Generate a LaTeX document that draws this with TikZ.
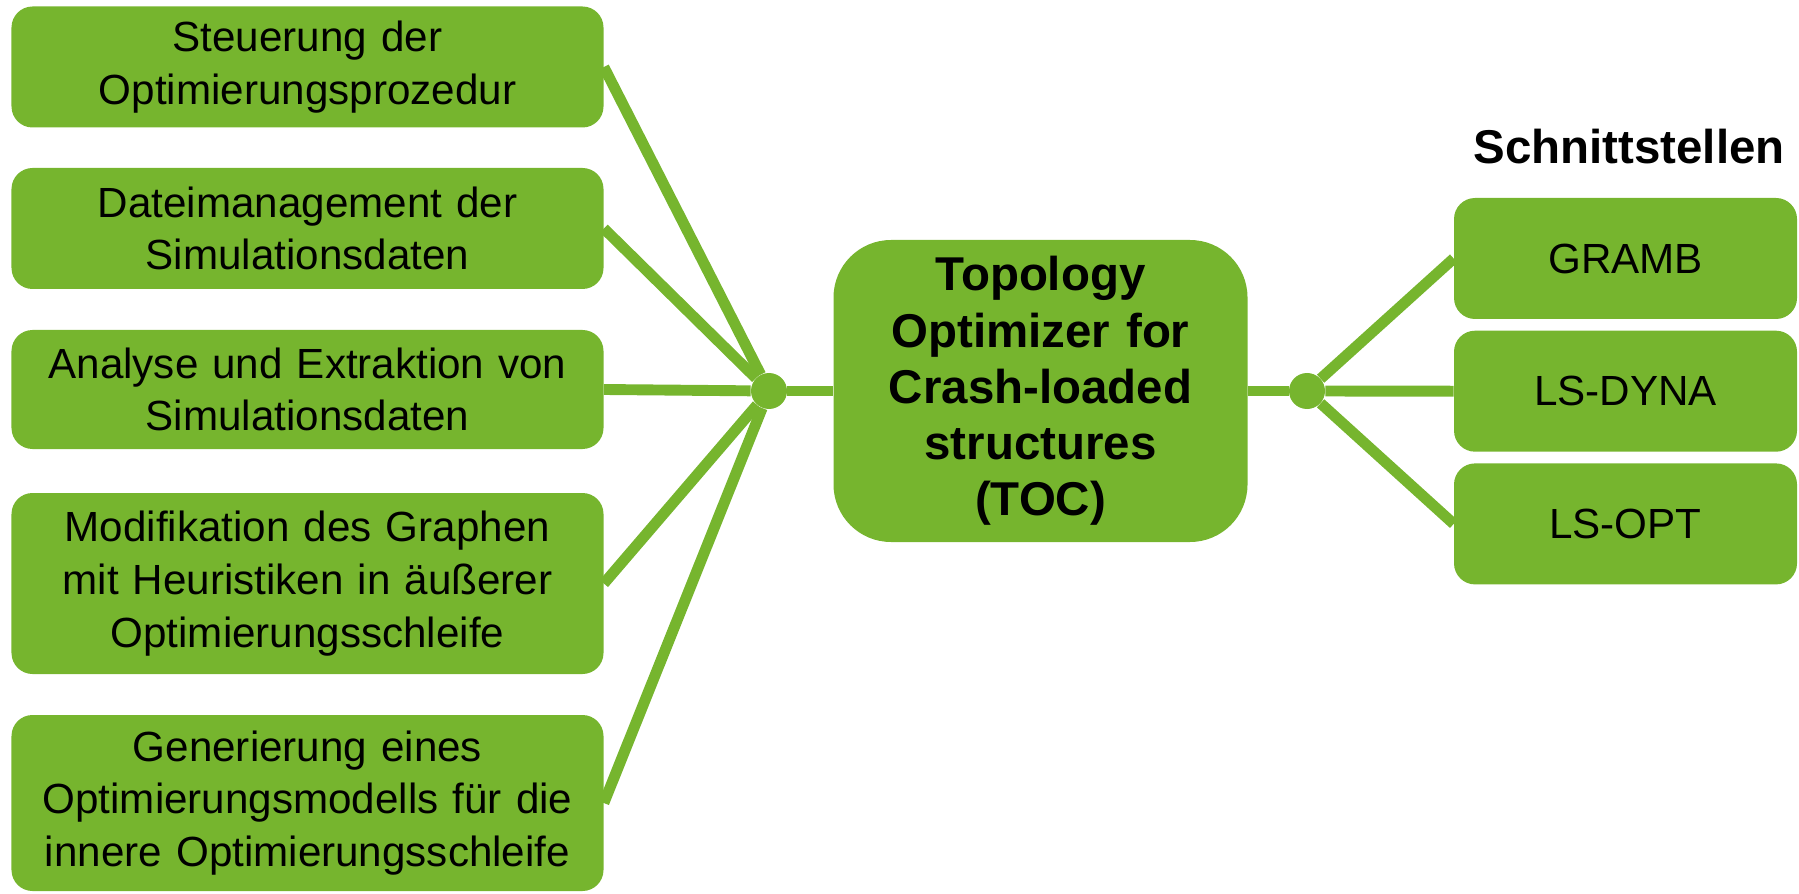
\documentclass[tikz,border=0pt]{standalone}
\usepackage{fontspec}
\setmainfont{Liberation Sans}
\usetikzlibrary{positioning}
\definecolor{toclime}{RGB}{118,181,46}
\tikzset{
  task/.style={rectangle,rounded corners=0.42cm,fill=toclime,minimum width=11.84cm,
    text width=11.6cm,align=center,inner sep=0pt,font=\fontsize{24}{30}\selectfont},
  iface/.style={rectangle,rounded corners=0.42cm,fill=toclime,minimum width=6.86cm,
    minimum height=2.42cm,inner sep=0pt,font=\fontsize{24}{30}\selectfont},
  core/.style={rectangle,rounded corners=1.15cm,fill=toclime,minimum width=8.28cm,
    minimum height=6.04cm,text width=8cm,align=center,inner sep=0pt,
    font=\bfseries\fontsize{27}{32}\selectfont},
  hub/.style={circle,fill=toclime,minimum size=0.72cm,inner sep=0pt},
  link/.style={draw=toclime,line width=6.2pt}
}
\begin{document}
\begin{tikzpicture}
  \useasboundingbox (0,0) rectangle (35.98,17.86);

  \node[task,minimum height=2.42cm] (steu) at (6.15,16.52) {Steuerung der\\Optimierungsprozedur};
  \node[task,minimum height=2.42cm] (datei) at (6.15,13.29) {Dateimanagement der\\Simulationsdaten};
  \node[task,minimum height=2.38cm] (anal) at (6.15,10.07) {Analyse und Extraktion von\\Simulationsdaten};
  \node[task,minimum height=3.62cm] (modi) at (6.15,6.19) {Modifikation des Graphen\\mit Heuristiken in äußerer\\Optimierungsschleife};
  \node[task,minimum height=3.52cm] (gene) at (6.15,1.80) {Generierung eines\\Optimierungsmodells für die\\innere Optimierungsschleife};

  \node[core] (toc) at (20.81,10.04) {Topology\\Optimizer for\\Crash-loaded\\structures\\(TOC)};
  \node[hub] (hubl) at (15.38,10.04) {};
  \node[hub] (hubr) at (26.14,10.04) {};

  \node[iface] (gramb) at (32.51,12.69) {GRAMB};
  \node[iface] (dyna) [below=0.22cm of gramb] {LS-DYNA};
  \node[iface] (lsopt) [below=0.22cm of dyna] {LS-OPT};
  \node[font=\bfseries\fontsize{27}{32}\selectfont] (schnitt) at (32.58,14.92) {Schnittstellen};

  \path (steu.east)  edge[link] (hubl)
        (datei.east) edge[link] (hubl)
        (anal.east)  edge[link] (hubl)
        (modi.east)  edge[link] (hubl)
        (gene.east)  edge[link] (hubl)
        (hubl)       edge[link] (toc)
        (toc)        edge[link] (hubr)
        (hubr)       edge[link] (gramb.west)
        (hubr)       edge[link] (dyna.west)
        (hubr)       edge[link] (lsopt.west)
  ;
\end{tikzpicture}
\end{document}
